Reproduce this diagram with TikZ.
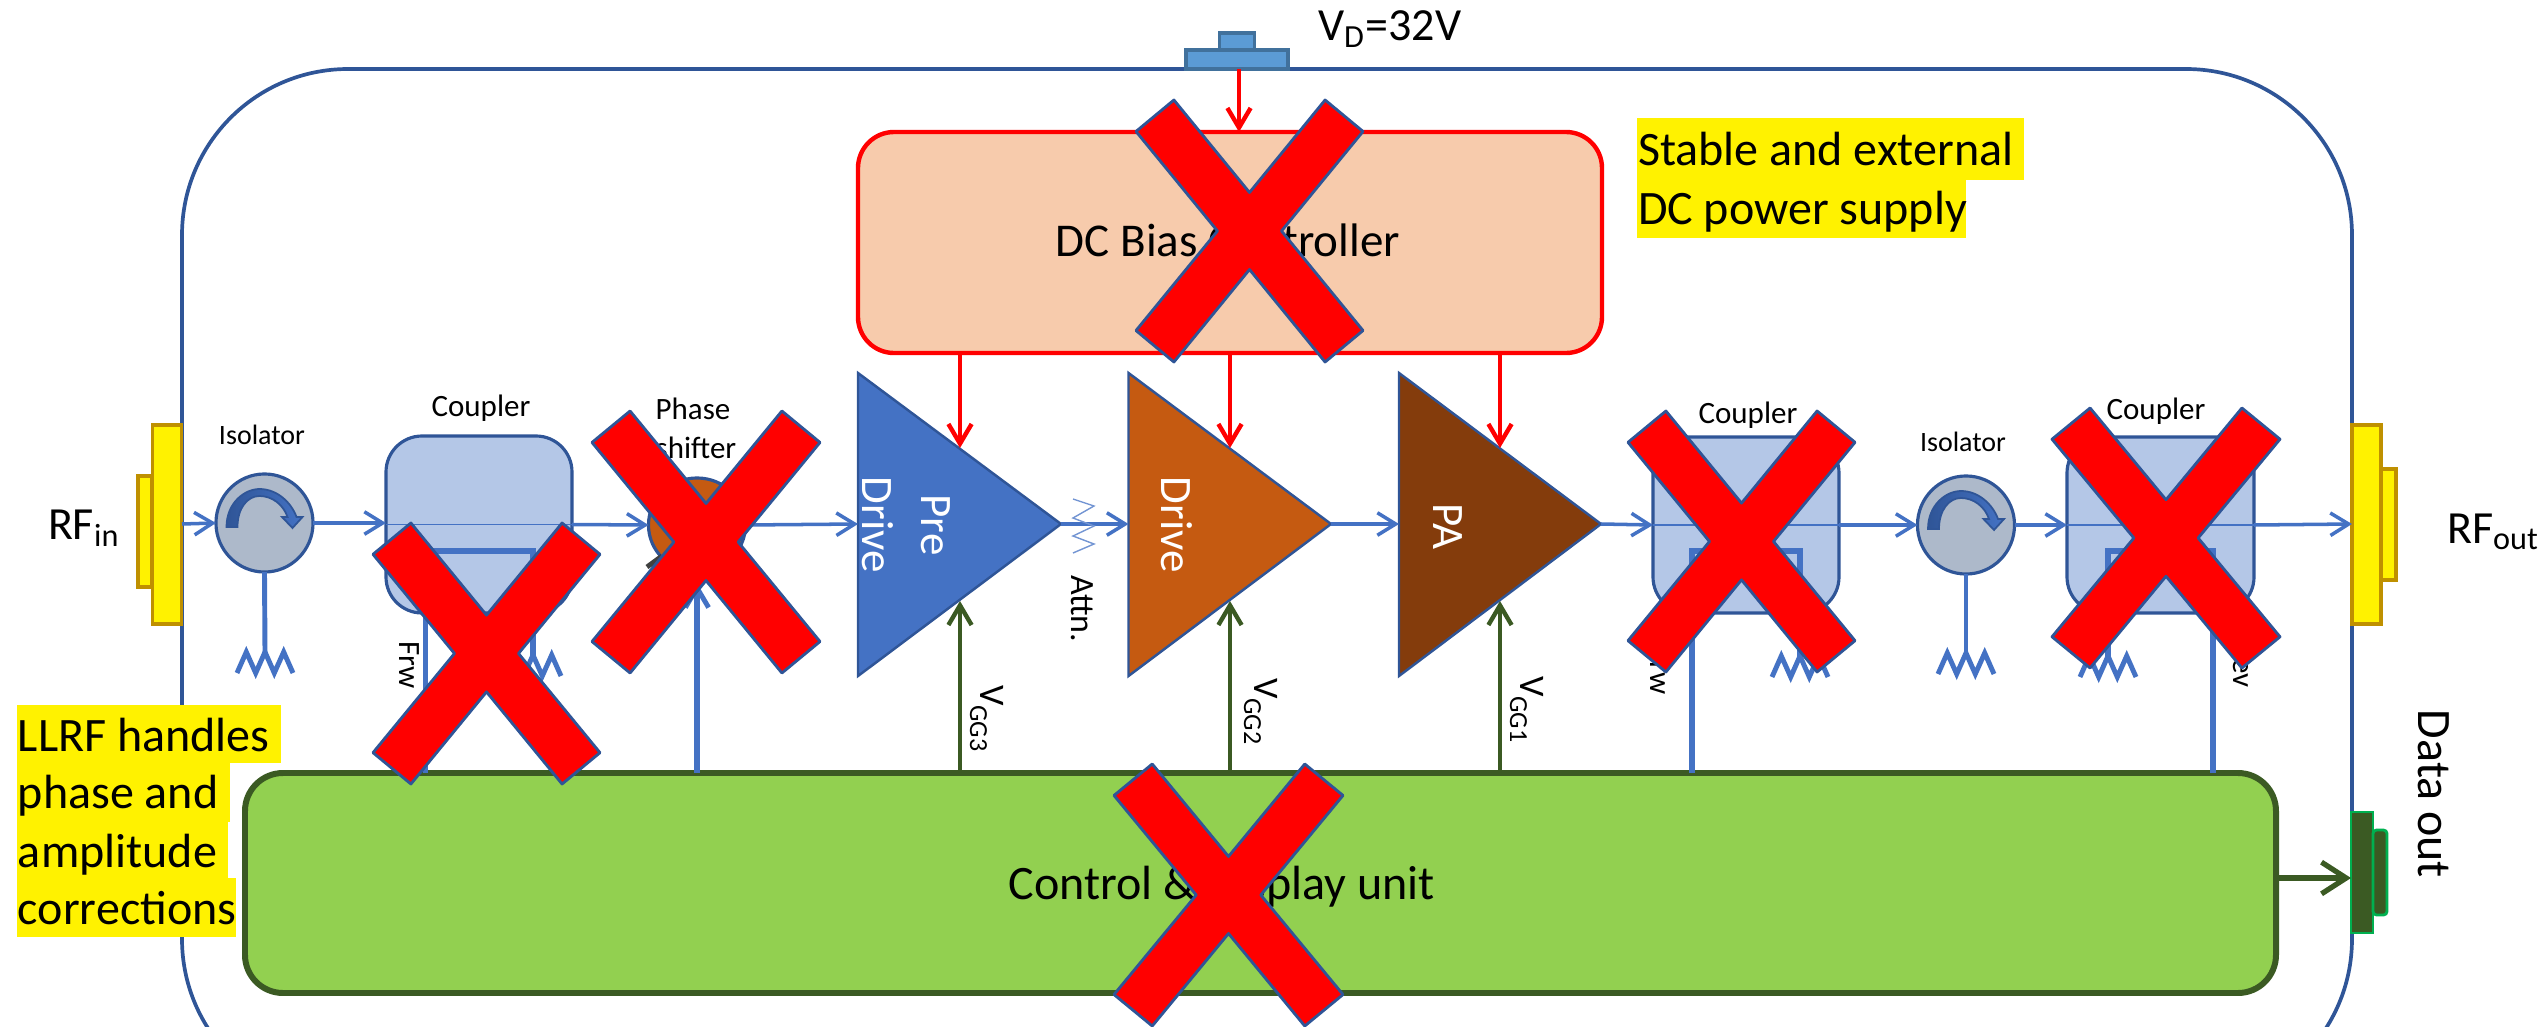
\documentclass[tikz,border=0pt]{standalone}
\usepackage{fontspec}
\setmainfont{Carlito}
\usetikzlibrary{arrows.meta,shapes.geometric}
\definecolor{frameblue}{HTML}{2F5597}
\definecolor{lineblue}{HTML}{4472C4}
\definecolor{couplerfill}{HTML}{B4C7E7}
\definecolor{isofill}{HTML}{ADB9CA}
\definecolor{conborder}{HTML}{BF9000}
\definecolor{darkgreen}{HTML}{3B5A23}
\definecolor{ctrlfill}{HTML}{92D050}
\definecolor{dcfill}{HTML}{F7CBAC}
\definecolor{orangefill}{HTML}{C55A11}
\definecolor{brownfill}{HTML}{843C0C}
\definecolor{vdfill}{HTML}{5B9BD5}
\definecolor{vdborder}{HTML}{41719C}
\definecolor{dogreen}{HTML}{00B050}
\newcommand{\fs}[1]{\fontsize{\the\dimexpr #1pt*2845/10000\relax}{\the\dimexpr #1pt*3400/10000\relax}\selectfont}
\newcommand{\vgg}[1]{\fs{36}V\raisebox{-0.1cm}{\fs{26}GG#1}}
\tikzset{
  pxbox/.style 2 args={rectangle,inner sep=0pt,outer sep=0pt,minimum width=#1*0.01cm,minimum height=#2*0.01cm},
  rf/.style={draw=conborder,fill=yellow,line width=0.9pt},
  coupler/.style={draw=frameblue,fill=couplerfill,line width=0.9pt,rounded corners=0.36cm},
  iso/.style={ellipse,draw=frameblue,fill=isofill,line width=0.9pt,inner sep=0pt,outer sep=0pt,minimum width=0.97cm,minimum height=0.98cm},
  rfline/.style={draw=lineblue,line width=1pt,-{Straight Barb[length=5.2pt,width=6.4pt,line width=1pt]}},
  thinline/.style={draw=lineblue,line width=0.55pt},
  stem/.style={draw=lineblue,line width=1.6pt},
  redarrow/.style={draw=red,line width=1.25pt,-{Straight Barb[length=5.6pt,width=6.6pt,line width=1.25pt]}},
  greenarrow/.style={draw=darkgreen,line width=1.25pt,-{Straight Barb[length=5.6pt,width=6.6pt,line width=1.25pt]}},
  amp/.style={draw=frameblue,line width=0.7pt},
  crossmark/.style={draw=frameblue,fill=red,line width=0.8pt,line join=round},
  lab/.style={inner sep=0pt,outer sep=0pt,text=black},
}
% Diagonal cross: left x, top y, width, height (pixels)
\newcommand{\crossat}[4]{%
  \begin{scope}[shift={(#1,#2)},x=#3*0.01cm,y=-#4*0.01cm]
    \path[crossmark] (0.167,0)--(0.5,0.353)--(0.833,0)--(1,0.12)--(0.641,0.5)--(1,0.88)--(0.833,1)--(0.5,0.647)--(0.167,1)--(0,0.88)--(0.359,0.5)--(0,0.12)--cycle;
  \end{scope}}
% Resistor zigzag hanging from a top-centre coordinate
\newcommand{\zigzag}[1]{%
  \draw[stem,line width=1.4pt,line join=miter] ([shift={(-28,21)}]#1)--([shift={(-18.7,0)}]#1)--([shift={(-9.3,21)}]#1)--(#1)--([shift={(9.3,21)}]#1)--([shift={(18.7,0)}]#1)--([shift={(28,21)}]#1);}
% Circulator arrow, centred on an isolator
\newcommand{\circarrow}[2]{%
  \begin{scope}[shift={(#1,#2)}]
    \path[draw=frameblue,line width=0.5pt,left color=frameblue,right color=lineblue]
      (-38,4) .. controls (-38,-20) and (-20,-34) .. (-5,-34)
      .. controls (13,-34) and (27,-20) .. (32,-6) -- (38,-6) -- (28,5) -- (17.5,-6) -- (23,-6)
      .. controls (19,-18) and (8,-27) .. (-5,-27)
      .. controls (-17,-27) and (-27,-15) .. (-27,4) -- cycle;
  \end{scope}}
\begin{document}
\begin{tikzpicture}[x=0.01cm,y=-0.01cm]
\useasboundingbox (0,0) rectangle (2544,1027);
\clip (0,0) rectangle (2544,1027);
% outer frame
\draw[frameblue,line width=1.05pt,rounded corners=1.66cm] (182,69) rectangle (2352,1105);
% connectors on the frame
\node[pxbox={29.5}{199},rf] (rfinbig) at (167,524.5) {};
\node[pxbox={14}{111},rf] (rfinsmall) at (145,531.5) {};
\node[pxbox={29}{199},rf] (rfoutbig) at (2366.5,524.5) {};
\node[pxbox={15}{111},rf] (rfoutsmall) at (2388.5,524.5) {};
\node[pxbox={102}{19},draw=vdborder,fill=vdfill,line width=0.9pt] (vdbig) at (1237,59.5) {};
\node[pxbox={35}{17},draw=vdborder,fill=vdfill,line width=0.9pt] (vdsmall) at (1237,41.5) {};
\node[pxbox={22}{121},draw=dogreen,fill=darkgreen,line width=0.8pt] (dobig) at (2362,872.5) {};
\node[pxbox={14}{85},draw=dogreen,fill=darkgreen,line width=0.8pt,rounded corners=1pt] (dosmall) at (2380,872.5) {};
% text labels on the frame
\node[lab,anchor=base west] (rfinlab) at (48,539) {\fs{46}RF\textsubscript{in}};
\node[lab,anchor=base west] (rfoutlab) at (2447,543) {\fs{46}RF\textsubscript{out}};
\node[lab,anchor=base west] (vdlab) at (1318,41) {\fs{46}V\textsubscript{D}=32V};
\node[lab,rotate=-90] (datalab) at (2434,794) {\fs{48}Data out};
% main blocks
\node[pxbox={744}{221},draw=red,fill=dcfill,line width=1.25pt,rounded corners=0.36cm] (dc) at (1230,242.5) {};
\node[lab] (dclab) at (1228,240) {\fs{47}DC Bias Controller};
\node[pxbox={2031}{220},draw=darkgreen,fill=ctrlfill,line width=1.7pt,rounded corners=0.38cm] (ctrl) at (1260.5,883) {};
\node[lab] (ctrllab) at (1222,887) {\fs{48}Control \& Display unit};
% amplifiers
\coordinate (p1) at (858,524);\coordinate (a1) at (1061,524);
\coordinate (p2) at (1128.5,524);\coordinate (a2) at (1331,524);
\coordinate (p3) at (1399,524);\coordinate (a3) at (1601,524);
\coordinate (t1) at (960,448);\coordinate (b1) at (960,601);
\coordinate (t2) at (1230,448);\coordinate (b2) at (1230,601);
\coordinate (t3) at (1500,448);\coordinate (b3) at (1500,601);
\path[amp,fill=lineblue] (858,373)--(1061,524)--(858,676)--cycle;
\path[amp,fill=orangefill] (1128.5,373)--(1331,524)--(1128.5,676)--cycle;
\path[amp,fill=brownfill] (1399,373)--(1601,524)--(1399,676)--cycle;
\node[lab,text=white,rotate=-90] (prelab) at (936,525) {\fs{45}Pre};
\node[lab,text=white,rotate=-90] (drv1lab) at (878,525) {\fs{45}Drive};
\node[lab,text=white,rotate=-90] (drv2lab) at (1177,525) {\fs{45}Drive};
\node[lab,text=white,rotate=-90] (palab) at (1448,526) {\fs{45}PA};
% couplers
\node[pxbox={186}{177},coupler] (c1) at (479,524.5) {};
\node[pxbox={186}{176},coupler] (c2) at (1746,525) {};
\node[pxbox={187}{176},coupler] (c3) at (2160.5,525) {};
\node[lab] (c1lab) at (481,408) {\fs{31}Coupler};
\node[lab] (c2lab) at (1748,415) {\fs{31}Coupler};
\node[lab] (c3lab) at (2156,411) {\fs{31}Coupler};
% isolators and phase shifter
\node[iso] (i1) at (264.5,523) {};
\node[iso] (i2) at (1966,525) {};
\circarrow{264.5}{523}
\circarrow{1966}{525}
\node[lab] (i1lab) at (262,435) {\fs{28}Isolator};
\node[lab] (i2lab) at (1963,442) {\fs{28}Isolator};
\node[iso,fill=orangefill,minimum width=0.97cm,minimum height=0.94cm] (ps) at (697,525) {};
\draw[draw=black!75,line width=1.4pt] (647,567) -- (662,556);
\node[lab] (pslab1) at (693,409) {\fs{31}Phase};
\node[lab] (pslab2) at (696,448) {\fs{31}shifter};
% RF chain
\coordinate (rfin) at (182,524);
\coordinate (rfout) at (2352,524);
\draw[rfline] (rfin) -- (i1.west);
\draw[rfline] (i1.east) -- (c1.west |- i1.east);
\draw[thinline] (c1.west) -- (c1.east);
\draw[rfline] (c1.east) -- (ps.west);
\draw[rfline] (ps.east) -- (p1);
\draw[rfline] (a1) -- (p2);
\draw[rfline] (a2) -- (p3);
\draw[rfline] (a3) -- (c2.west);
\draw[thinline] (c2.west) -- (c2.east);
\draw[rfline] (c2.east) -- (i2.west);
\draw[rfline] (i2.east) -- (c3.west);
\draw[thinline] (c3.west) -- (c3.east);
\draw[rfline] (c3.east) -- (rfout);
% attenuator
\draw[thinline,line width=0.4pt,lineblue!75] (1073,499)--(1094,506)--(1073,518)--(1094,526)--(1073,536)--(1094,544)--(1073,553);
\node[lab,rotate=-90] (attn) at (1082,609) {\fs{34}Attn.};
% terminations
\coordinate (r1) at (265,652);
\coordinate (r2) at (533,655);
\coordinate (r3) at (1800,656);
\coordinate (r4) at (1966,653);
\coordinate (r5) at (2108,656);
\draw[stem,line width=1.4pt] (i1.south) -- (r1);
\draw[stem,line width=1.4pt] (i2.south) -- (r4);
\zigzag{r1}\zigzag{r2}\zigzag{r3}\zigzag{r4}\zigzag{r5}
% coupled ports
\coordinate (k1l) at (425.5,551);\coordinate (k1r) at (533,551);
\coordinate (k2l) at (1692,551);\coordinate (k2r) at (1800,551);
\coordinate (k3l) at (2108,551);\coordinate (k3r) at (2213,551);
\draw[stem] (ctrl.north -| k1l) -- (k1l) -- (k1r) -- (r2);
\draw[stem] (ctrl.north -| k2l) -- (k2l) -- (k2r) -- (r3);
\draw[stem] (r5) -- (k3l) -- (k3r) -- (ctrl.north -| k3r);
% phase-shifter control
\coordinate (pstip) at (697,583);
\draw[stem,-{Straight Barb[length=5.6pt,width=6.6pt,line width=1.4pt]}] (ctrl.north -| pstip) -- (pstip);
\node[lab,rotate=-90] (frw1) at (409,665) {\fs{31}Frw};
\node[lab,rotate=-90] (frw2) at (1660,671) {\fs{31}Frw};
\node[lab,rotate=-90] (rev) at (2243,665) {\fs{31}Rev};
% bias and gate lines
\coordinate (vdin) at (1239,69);
\coordinate (dctop) at (1239,132);
\draw[redarrow] (vdin) -- (dctop);
\draw[redarrow] (dc.south -| t1) -- (t1);
\draw[redarrow] (dc.south -| t2) -- (t2);
\draw[redarrow] (dc.south -| t3) -- (t3);
\draw[greenarrow] (ctrl.north -| b1) -- (b1);
\draw[greenarrow] (ctrl.north -| b2) -- (b2);
\draw[greenarrow] (ctrl.north -| b3) -- (b3);
\node[lab,rotate=-90,anchor=base west] (vg3) at (980,685) {\vgg{3}};
\node[lab,rotate=-90,anchor=base west] (vg2) at (1254,678) {\vgg{2}};
\node[lab,rotate=-90,anchor=base west] (vg1) at (1520,676) {\vgg{1}};
% data output
\coordinate (dotip) at (2351,878);
\draw[draw=darkgreen,line width=1.5pt,-{Straight Barb[length=7pt,width=9pt,line width=1.5pt]}] (ctrl.east |- dotip) -- (dotip);
% highlighted notes
\fill[yellow] (1637,118) rectangle (2024,180);
\fill[yellow] (1637,180) rectangle (1966,238);
\node[lab,anchor=base west] (st1) at (1638,165) {\fs{48}Stable and external};
\node[lab,anchor=base west] (st2) at (1638,224) {\fs{48}DC power supply};
\fill[yellow] (17,705) rectangle (281,763);
\fill[yellow] (17,763) rectangle (230,822);
\fill[yellow] (17,822) rectangle (228,878);
\fill[yellow] (17,878) rectangle (236,937);
\node[lab,anchor=base west] (ll1) at (18,751) {\fs{48}LLRF handles};
\node[lab,anchor=base west] (ll2) at (18,808) {\fs{48}phase and};
\node[lab,anchor=base west] (ll3) at (18,867) {\fs{48}amplitude};
\node[lab,anchor=base west] (ll4) at (18,924) {\fs{48}corrections};
% crosses
\crossat{373}{523}{227}{261}
\crossat{592}{411}{228}{262}
\crossat{1136}{100}{227}{262}
\crossat{1114}{764}{229}{262}
\crossat{1628}{411}{227}{261}
\crossat{2052}{408}{228}{260}
\end{tikzpicture}
\end{document}
